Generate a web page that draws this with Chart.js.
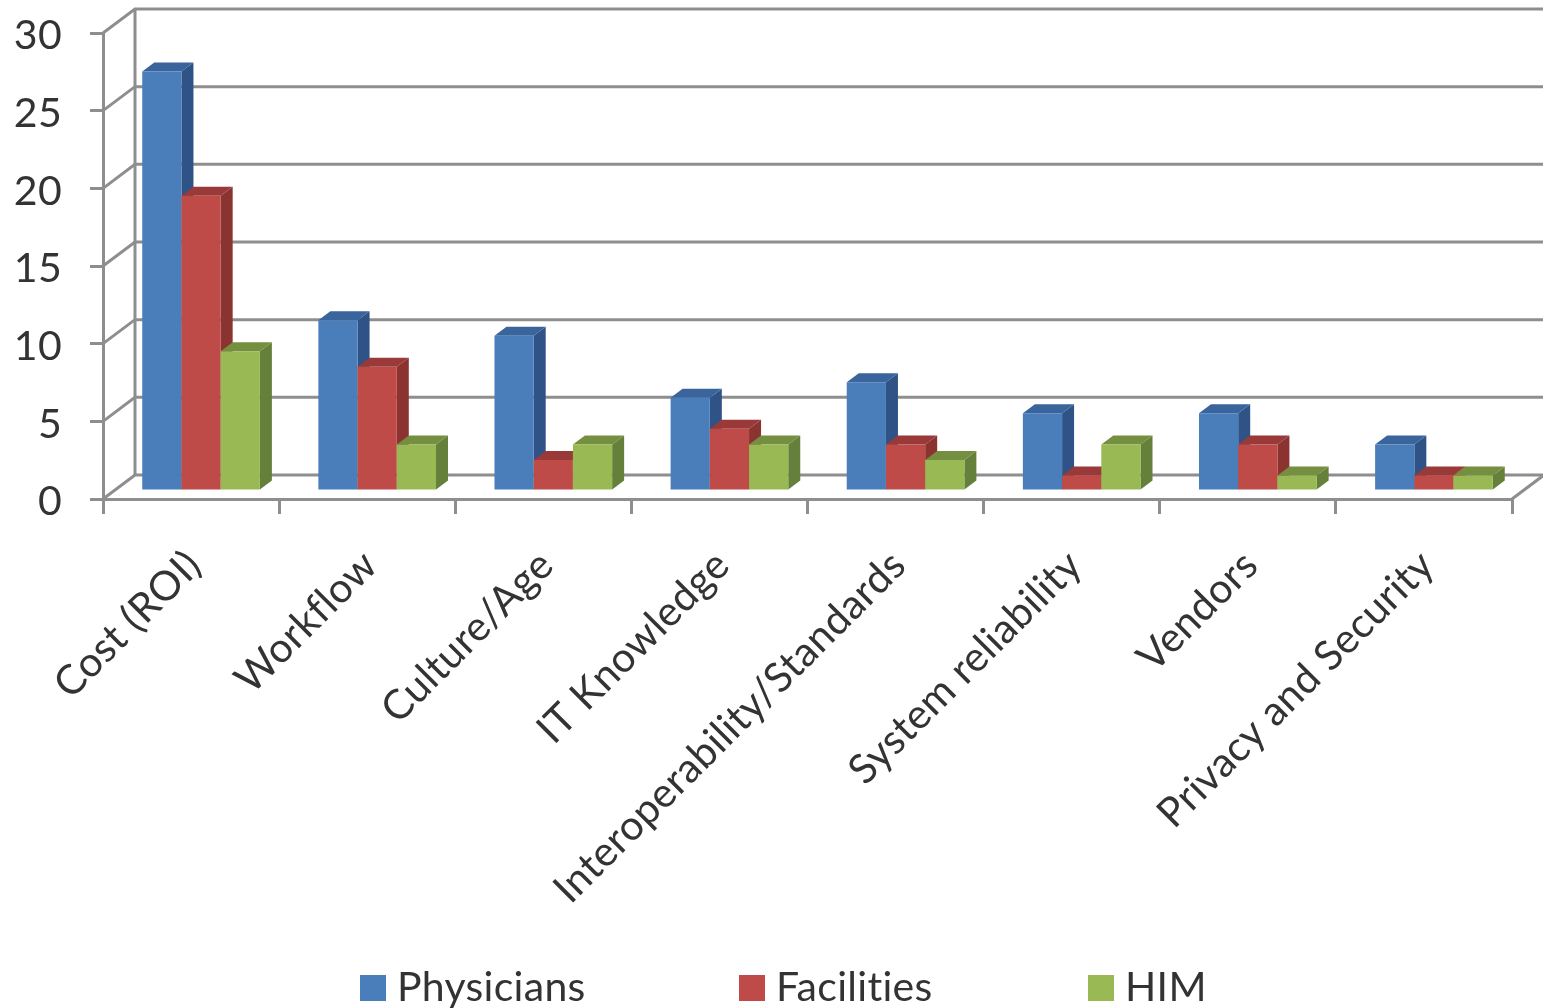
<!DOCTYPE html>
<html lang="en">
<head>
    <meta charset="UTF-8">
    <title>Barriers by group</title>
    <style>
        html, body { margin: 0; padding: 0; background: #fff; overflow: hidden; }
        canvas { display: block; }
    </style>
</head>
<body>
    <canvas id="chart" width="1543" height="1008"></canvas>

    <script src="https://cdn.jsdelivr.net/npm/chart.js@4"></script>
    <script>
        const categories = ['Cost (ROI)', 'Workflow', 'Culture/Age', 'IT Knowledge', 'Interoperability/Standards', 'System reliability', 'Vendors', 'Privacy and Security'];
        const physicians = [27, 11, 10, 6, 7, 5, 5, 3];
        const facilities = [19, 8, 2, 4, 3, 1, 3, 1];
        const him = [9, 3, 3, 3, 2, 3, 1, 1];

        const frontColors = ['#4a7ebb', '#be4b48', '#98b954'];
        const topColors = ['#3a659c', '#9a3a38', '#748f3f'];
        const sideColors = ['#2f5287', '#8a3331', '#65803a'];
        const gridColor = '#8e8e8e';
        const textColor = '#333333';
        const fontName = 'Lato, "Open Sans", sans-serif';
        const fontSize = 41;

        // wall depth and bar depth, the picture is a fake 3D column chart
        const wallX = 32, wallY = -24;
        const barShiftX = 10, barShiftY = -8;
        const depthX = 12, depthY = -9;
        const legendBoxX = [360, 739, 1088];

        function poly(ctx, pts, color) {
            ctx.fillStyle = color;
            ctx.beginPath();
            ctx.moveTo(pts[0][0], pts[0][1]);
            for (let i = 1; i < pts.length; i++) ctx.lineTo(pts[i][0], pts[i][1]);
            ctx.closePath();
            ctx.fill();
        }

        const fake3d = {
            id: 'fake3d',
            beforeDraw(chart) {
                // a little spacing also turns off the ti ligature of the font
                chart.ctx.letterSpacing = '0.3px';
            },
            beforeDatasetsDraw(chart) {
                const ctx = chart.ctx;
                const area = chart.chartArea;
                const yScale = chart.scales.y;

                // walls
                ctx.save();
                ctx.strokeStyle = gridColor;
                ctx.lineWidth = 3;
                yScale.ticks.forEach(t => {
                    const y = yScale.getPixelForValue(t.value);
                    ctx.beginPath();
                    ctx.moveTo(area.left, y);
                    ctx.lineTo(area.left + wallX, y + wallY);
                    ctx.lineTo(1543, y + wallY);
                    ctx.stroke();
                });
                ctx.beginPath();
                ctx.moveTo(area.left + wallX, area.top + wallY);
                ctx.lineTo(area.left + wallX, area.bottom + wallY);
                ctx.stroke();
                ctx.beginPath();
                ctx.moveTo(area.right, area.bottom);
                ctx.lineTo(area.right + wallX, area.bottom + wallY);
                ctx.stroke();

                // bars, left series first so the next one covers its side face
                categories.forEach((c, i) => {
                    chart.data.datasets.forEach((ds, d) => {
                        const bar = chart.getDatasetMeta(d).data[i];
                        const l = bar.x - bar.width / 2 + barShiftX;
                        const r = bar.x + bar.width / 2 + barShiftX;
                        const t = bar.y + barShiftY;
                        const b = bar.base + barShiftY;
                        poly(ctx, [[r, t], [r + depthX, t + depthY], [r + depthX, b + depthY], [r, b]], sideColors[d]);
                        poly(ctx, [[l, t], [l + depthX, t + depthY], [r + depthX, t + depthY], [r, t]], topColors[d]);
                        poly(ctx, [[l, t], [r, t], [r, b], [l, b]], frontColors[d]);
                    });
                });
                ctx.restore();
            },
            beforeDatasetDraw() {
                return false;
            },
            afterDraw(chart) {
                // legend spacing in the picture can't be had from the built-in one
                const ctx = chart.ctx;
                ctx.save();
                ctx.font = fontSize + 'px ' + fontName;
                ctx.textBaseline = 'alphabetic';
                chart.data.datasets.forEach((ds, d) => {
                    ctx.fillStyle = frontColors[d];
                    ctx.fillRect(legendBoxX[d], 975, 26, 26);
                    ctx.fillStyle = textColor;
                    ctx.fillText(ds.label, legendBoxX[d] + 37, 1001);
                });
                ctx.restore();
            }
        };

        new Chart(document.getElementById('chart'), {
            type: 'bar',
            data: {
                labels: categories,
                datasets: [
                    { label: 'Physicians', data: physicians, backgroundColor: frontColors[0] },
                    { label: 'Facilities', data: facilities, backgroundColor: frontColors[1] },
                    { label: 'HIM', data: him, backgroundColor: frontColors[2] }
                ]
            },
            plugins: [fake3d],
            options: {
                responsive: false,
                animation: false,
                categoryPercentage: 0.668,
                barPercentage: 1,
                layout: { padding: { top: 33, right: 31, left: 0, bottom: 0 } },
                plugins: {
                    tooltip: { enabled: false },
                    legend: { display: false }
                },
                scales: {
                    x: {
                        afterFit(scale) { scale.height = 509; scale.paddingLeft = 0; scale.paddingRight = 0; },
                        grid: { drawOnChartArea: false, color: gridColor, lineWidth: 3, tickLength: 15 },
                        border: { color: gridColor, width: 3 },
                        ticks: { color: textColor, font: { family: fontName, size: fontSize }, minRotation: 45, maxRotation: 45, labelOffset: 3, padding: 27, autoSkip: false }
                    },
                    y: {
                        min: 0,
                        max: 30,
                        afterFit(scale) { scale.width = 103; scale.paddingTop = 0; scale.paddingBottom = 0; },
                        grid: { drawOnChartArea: false, color: gridColor, lineWidth: 3, tickLength: 13 },
                        border: { color: gridColor, width: 3 },
                        ticks: { stepSize: 5, color: textColor, font: { family: fontName, size: fontSize }, padding: 28, labelOffset: 3 }
                    }
                }
            }
        });
    </script>
</body>
</html>
